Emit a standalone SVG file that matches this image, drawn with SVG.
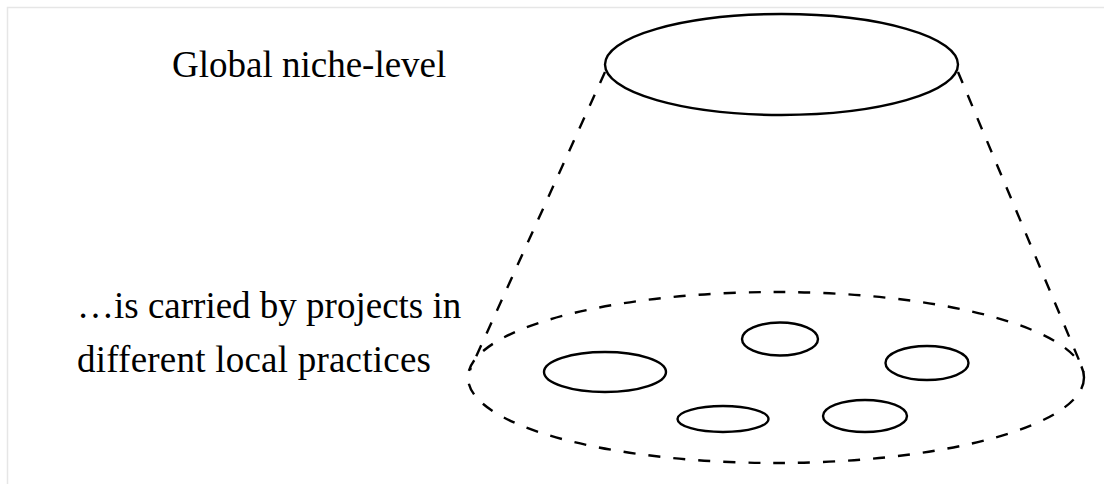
<svg xmlns="http://www.w3.org/2000/svg" width="1104" height="484" viewBox="0 0 1104 484">
  <style>
    .frame { fill: none; stroke: #e6e6e6; stroke-width: 1.5; }
    .solid { fill: none; stroke: #000; stroke-width: 2.4; }
    .dashed { fill: none; stroke: #000; stroke-width: 2.4; stroke-dasharray: 12 13; }
    .label { font-family: "Liberation Serif", "Times New Roman", serif; font-size: 37px; fill: #000; }
  </style>
  <rect width="1104" height="484" fill="#fff"/>
  <path class="frame" d="M7.5,484 V7.5 H1104"/>

  <!-- labels -->
  <g id="label-global">
    <text class="label" x="172" y="77">Global niche-level</text>
  </g>
  <g id="label-local">
    <text class="label" x="77" y="318">…is carried by projects in</text>
    <text class="label" x="77" y="372" textLength="354" lengthAdjust="spacing">different local practices</text>
  </g>

  <!-- cone sides -->
  <g id="connectors">
    <line class="dashed" x1="605" y1="72" x2="470" y2="370"/>
    <line class="dashed" x1="958" y1="72" x2="1084" y2="372"/>
  </g>

  <!-- global level -->
  <g id="global-niche">
    <ellipse class="solid" cx="781.5" cy="64.5" rx="176.5" ry="50.5"/>
  </g>

  <!-- local practices -->
  <g id="local-practices">
    <ellipse class="dashed" cx="776" cy="377.5" rx="308" ry="85.5"/>
  </g>

  <!-- projects -->
  <g id="project-1">
    <ellipse class="solid" cx="605" cy="372" rx="61" ry="20"/>
  </g>
  <g id="project-2">
    <ellipse class="solid" cx="780" cy="339" rx="38" ry="16.5"/>
  </g>
  <g id="project-3">
    <ellipse class="solid" cx="927" cy="363" rx="41.5" ry="17"/>
  </g>
  <g id="project-4">
    <ellipse class="solid" cx="723" cy="419" rx="45.5" ry="13"/>
  </g>
  <g id="project-5">
    <ellipse class="solid" cx="865" cy="416" rx="42" ry="16"/>
  </g>
</svg>
